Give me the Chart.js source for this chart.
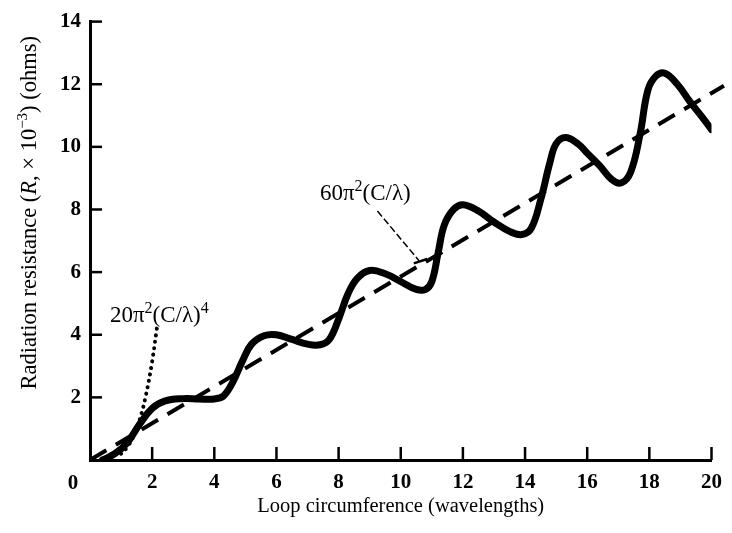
<!DOCTYPE html>
<html>
<head>
<meta charset="utf-8">
<script src="https://cdn.jsdelivr.net/npm/chart.js@4.4.1/dist/chart.umd.min.js"></script>
<style>
html,body{margin:0;padding:0;background:#fff;}
#wrap{width:732px;height:533px;}
</style>
</head>
<body>
<div id="wrap"><canvas id="c" width="732" height="533"></canvas></div>
<script>
// ---- data ----
const xTicks = [0,2,4,6,8,10,12,14,16,18,20];
const yTicks = [0,2,4,6,8,10,12,14];

// exact radiation resistance curve (thick solid)
const curveX = [0.4,0.8,1.2,1.6,2.0,2.4,3.0,3.5,4.0,4.3,4.6,4.9,5.2,5.6,6.0,6.5,7.0,7.4,7.7,8.0,8.3,8.6,9.0,9.5,10.0,10.5,10.8,11.0,11.2,11.4,11.7,12.0,12.5,13.0,13.5,13.9,14.2,14.5,14.8,15.0,15.3,15.7,16.0,16.4,16.8,17.1,17.4,17.7,17.95,18.2,18.5,18.9,19.3,19.7,20.0];
const curveY = [0.0,0.2,0.55,1.15,1.65,1.88,1.96,1.95,1.95,2.05,2.5,3.15,3.7,3.97,4.0,3.85,3.7,3.68,3.85,4.5,5.3,5.8,6.05,5.95,5.7,5.45,5.45,5.7,6.6,7.5,8.0,8.15,7.95,7.6,7.3,7.2,7.4,8.3,9.5,10.1,10.3,10.1,9.8,9.4,8.95,8.85,9.2,10.4,11.8,12.25,12.35,12.0,11.45,10.95,10.55];

// large-loop asymptote 60π²(C/λ) (dashed)
const linearX = [0, 20.4];
const linearY = [0, 11.95];

// small-loop approximation 20π²(C/λ)^4 (dotted)
const smallX = [1.0,1.2,1.4,1.6,1.8,2.0,2.15];
const smallY = [0.2,0.41,0.76,1.29,2.07,3.15,4.2];

// leader line for the 60π²(C/λ) label
const leaderX = [9.25, 10.6];
const leaderY = [7.95, 6.35];
const leaderBarX = [10.42, 10.85];
const leaderBarY = [6.28, 6.42];

// text labels
const xTitle = 'Loop circumference (wavelengths)';
const labelSmall = {x: 0.64, y: 4.41};
const labelLarge = {x: 7.4, y: 8.3};

const pts = (xs, ys) => xs.map((x, i) => ({x: x, y: ys[i]}));

const SERIF = '"Liberation Serif", "DejaVu Serif", serif';

function drawRich(ctx, pieces, x, y, align) {
  let total = 0;
  pieces.forEach(p => { ctx.font = p.f; total += ctx.measureText(p.t).width; });
  let cx = align === 'center' ? x - total / 2 : x;
  pieces.forEach(p => {
    ctx.font = p.f;
    ctx.fillText(p.t, cx, y + (p.dy || 0));
    cx += ctx.measureText(p.t).width;
  });
}

const decor = {
  id: 'decor',
  afterDraw(chart) {
    const ctx = chart.ctx;
    const xs = chart.scales.x, ys = chart.scales.y;
    const a = chart.chartArea;
    ctx.save();
    ctx.strokeStyle = '#000';
    ctx.fillStyle = '#000';
    ctx.lineWidth = 2.5;
    // inward tick marks
    xTicks.forEach(v => {
      if (v === 0) return;
      const p = xs.getPixelForValue(v);
      ctx.beginPath(); ctx.moveTo(p, a.bottom); ctx.lineTo(p, a.bottom - 13); ctx.stroke();
    });
    yTicks.forEach(v => {
      if (v === 0) return;
      const p = ys.getPixelForValue(v);
      ctx.beginPath(); ctx.moveTo(a.left, p); ctx.lineTo(a.left + 12, p); ctx.stroke();
    });
    // shared origin label
    ctx.textBaseline = 'alphabetic';
    ctx.textAlign = 'left';
    ctx.font = 'bold 21px ' + SERIF;
    const o = '0';
    const ow = ctx.measureText(o).width;
    ctx.fillText(o, xs.getPixelForValue(0) - 17 - ow / 2, a.bottom + 29);

    // x title
    drawRich(ctx, [{t: xTitle, f: '20.5px ' + SERIF}], (a.left + a.right) / 2, a.bottom + 52, 'center');

    // y title (rotated)
    ctx.save();
    ctx.translate(a.left - 54, (a.top + a.bottom) / 2 - 28);
    ctx.rotate(-Math.PI / 2);
    const nf = '22.5px ' + SERIF, itf = 'italic 22.5px ' + SERIF, sf = '15px ' + SERIF;
    drawRich(ctx, [
      {t: 'Radiation resistance (', f: nf},
      {t: 'R', f: itf},
      {t: ', \u00d7 10', f: nf},
      {t: '\u22123', f: sf, dy: -9},
      {t: ') (ohms)', f: nf}
    ], 0, 0, 'center');
    ctx.restore();

    // curve labels
    const lf = '23px ' + SERIF, lsf = '16px ' + SERIF;
    drawRich(ctx, [
      {t: '20\u03c0', f: lf}, {t: '2', f: lsf, dy: -9},
      {t: '(C/\u03bb)', f: lf}, {t: '4', f: lsf, dy: -9}
    ], xs.getPixelForValue(labelSmall.x), ys.getPixelForValue(labelSmall.y), 'left');
    drawRich(ctx, [
      {t: '60\u03c0', f: lf}, {t: '2', f: lsf, dy: -9},
      {t: '(C/\u03bb)', f: lf}
    ], xs.getPixelForValue(labelLarge.x), ys.getPixelForValue(labelLarge.y), 'left');
    ctx.restore();
  }
};

new Chart(document.getElementById('c'), {
  type: 'line',
  data: {
    datasets: [
      {
        data: pts(curveX, curveY),
        borderColor: '#000', borderWidth: 7, tension: 0.4,
        pointRadius: 0, fill: false, borderCapStyle: 'round', borderJoinStyle: 'round'
      },
      {
        data: pts(linearX, linearY),
        borderColor: '#000', borderWidth: 4, borderDash: [19, 11],
        pointRadius: 0, fill: false, tension: 0, clip: false
      },
      {
        data: pts(smallX, smallY),
        borderColor: '#000', borderWidth: 4, borderDash: [0.1, 6.5], borderCapStyle: 'round',
        pointRadius: 0, fill: false, tension: 0.4
      },
      {
        data: pts(leaderX, leaderY),
        borderColor: '#000', borderWidth: 1.5, borderDash: [7, 3],
        pointRadius: 0, fill: false, tension: 0
      },
      {
        data: pts(leaderBarX, leaderBarY),
        borderColor: '#000', borderWidth: 2.5,
        pointRadius: 0, fill: false, tension: 0
      }
    ]
  },
  options: {
    responsive: false,
    animation: false,
    devicePixelRatio: 1,
    layout: {padding: {left: 0, right: 15, top: 16, bottom: 0}},
    plugins: {legend: {display: false}, tooltip: {enabled: false}},
    scales: {
      x: {
        type: 'linear', min: 0, max: 20,
        afterFit: s => { s.height = 73; },
        afterBuildTicks: s => { s.ticks = xTicks.map(v => ({value: v})); },
        grid: {display: false, drawTicks: false},
        border: {display: true, width: 3, color: '#000'},
        ticks: {
          autoSkip: false, maxRotation: 0, padding: 10, color: '#000',
          font: {family: SERIF, size: 21, weight: 'bold'},
          callback: v => (v === 0 ? '' : String(v))
        }
      },
      y: {
        type: 'linear', min: 0, max: 14,
        afterFit: s => { s.width = 90; },
        afterBuildTicks: s => { s.ticks = yTicks.map(v => ({value: v})); },
        grid: {display: false, drawTicks: false},
        border: {display: true, width: 3, color: '#000'},
        ticks: {
          autoSkip: false, padding: 9, color: '#000',
          font: {family: SERIF, size: 21, weight: 'bold'},
          callback: v => (v === 0 ? '' : String(v))
        }
      }
    }
  },
  plugins: [decor]
});
</script>
</body>
</html>
